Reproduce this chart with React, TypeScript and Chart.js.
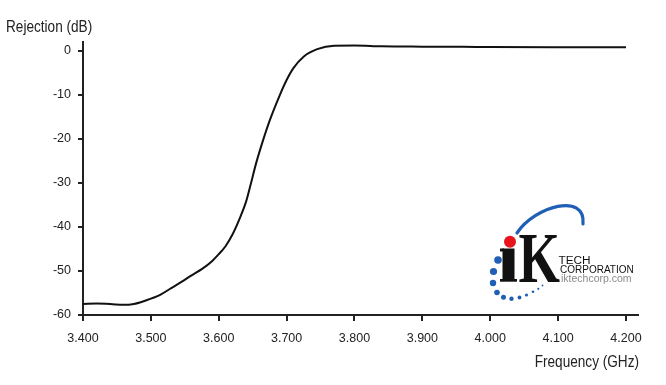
import React, { useEffect, useRef } from "react";
import { Chart, registerables } from "chart.js";

Chart.register(...registerables);

const frequencyGHz = [
  3.4, 3.42, 3.44, 3.46, 3.475, 3.485, 3.5, 3.515, 3.53, 3.545, 3.56, 3.575, 3.59, 3.6,
  3.61, 3.62, 3.63, 3.64, 3.647, 3.655, 3.665, 3.675, 3.69, 3.7, 3.71, 3.725, 3.745,
  3.77, 3.8, 3.84, 3.9, 3.96, 4.0, 4.1, 4.2,
];
const rejectionDb = [
  -57.5, -57.4, -57.5, -57.7, -57.5, -57.1, -56.3, -55.3, -53.9, -52.5, -51.0, -49.6, -47.8, -46.2,
  -44.4, -41.8, -38.4, -34.4, -30.4, -25.6, -20.5, -15.9, -10.1, -6.7, -4.0, -1.4, 0.3,
  1.1, 1.15, 0.95, 0.88, 0.85, 0.78, 0.74, 0.73,
];
const xTickValues = [3.4, 3.5, 3.6, 3.7, 3.8, 3.9, 4.0, 4.1, 4.2];
const yTickValues = [0, -10, -20, -30, -40, -50, -60];
const yAxisTitle = "Rejection (dB)";
const xAxisTitle = "Frequency (GHz)";

const FONT = "'Liberation Sans', Arial, sans-serif";

function narrowText(ctx: CanvasRenderingContext2D, text: string, x: number, y: number, align: "left" | "right", sx: number) {
  ctx.save();
  ctx.translate(x, y);
  ctx.scale(sx, 1);
  ctx.textAlign = align;
  ctx.fillText(text, 0, 0);
  ctx.restore();
}

const textPlugin = {
  id: "titlesAndLogo",
  afterDraw(chart: any) {
    const ctx = chart.ctx as CanvasRenderingContext2D;
    ctx.save();
    ctx.fillStyle = "#222";
    ctx.font = `16px ${FONT}`;
    ctx.textBaseline = "alphabetic";
    narrowText(ctx, yAxisTitle, 6, 31.5, "left", 0.85);
    narrowText(ctx, xAxisTitle, 639, 367, "right", 0.85);

    // logo
    ctx.strokeStyle = "#1f5fb5";
    ctx.lineWidth = 3.2;
    ctx.lineCap = "round";
    ctx.beginPath();
    ctx.moveTo(517, 233);
    ctx.bezierCurveTo(535, 206, 586, 192, 583, 224);
    ctx.stroke();

    ctx.fillStyle = "#1f5fb5";
    const dots = [
      [498, 260, 3.8], [493.5, 271.5, 3.6], [493, 283, 3.2], [497, 292.5, 2.8],
      [503.5, 297.3, 2.5], [511.5, 298.7, 2.2], [519.5, 297.5, 1.9], [526.5, 295, 1.6],
      [533, 291.8, 1.3], [538.3, 288.8, 1.1], [542.5, 285.5, 0.9],
    ];
    for (const [x, y, r] of dots) {
      ctx.beginPath();
      ctx.arc(x, y, r, 0, Math.PI * 2);
      ctx.fill();
    }

    ctx.fillStyle = "#e8141c";
    ctx.beginPath();
    ctx.arc(510, 241.7, 6, 0, Math.PI * 2);
    ctx.fill();

    ctx.fillStyle = "#111";
    ctx.fillRect(502.5, 248.5, 12, 32);
    ctx.fillRect(500, 248.5, 4, 3);
    ctx.fillRect(500, 279, 17, 2.7);

    ctx.save();
    ctx.translate(518.5, 281.7);
    ctx.scale(0.74, 1);
    ctx.font = "bold 72px 'Liberation Serif', 'DejaVu Serif', serif";
    ctx.textAlign = "left";
    ctx.fillText("K", 0, 0);
    ctx.restore();

    ctx.fillStyle = "#111";
    ctx.font = "10px 'Liberation Sans', Arial, sans-serif";
    ctx.save();
    ctx.translate(558.5, 264.3);
    ctx.scale(1.18, 1);
    ctx.textAlign = "left";
    ctx.fillText("TECH", 0, 0);
    ctx.restore();
    ctx.textAlign = "left";
    ctx.fillText("CORPORATION", 560, 273);
    ctx.fillStyle = "#8a8a8a";
    ctx.font = "10.5px 'Liberation Sans', Arial, sans-serif";
    ctx.fillText("iktechcorp.com", 561, 282);
    ctx.restore();
  },
};

export default function App() {
  const ref = useRef<HTMLCanvasElement | null>(null);
  useEffect(() => {
    if (!ref.current) return;
    const chart = new Chart(ref.current, {
      type: "scatter",
      data: {
        datasets: [
          {
            data: frequencyGHz.map((f, i) => ({ x: f, y: rejectionDb[i] })),
            showLine: true,
            borderColor: "#111",
            borderWidth: 2,
            pointRadius: 0,
            cubicInterpolationMode: "monotone",
            fill: false,
          },
        ],
      },
      options: {
        animation: false,
        responsive: false,
        devicePixelRatio: 1,
        layout: { padding: { left: 0, right: 28, top: 42, bottom: 0 } },
        plugins: { legend: { display: false }, tooltip: { enabled: false } },
        scales: {
          x: {
            type: "linear",
            min: 3.4,
            max: 4.2177,
            afterBuildTicks: (s: any) => {
              s.ticks = xTickValues.map((v) => ({ value: v }));
            },
            afterFit: (s: any) => {
              s.height = 70;
            },
            ticks: {
              callback: (v: any) => Number(v).toFixed(3),
              color: "#222",
              font: { family: FONT, size: 12.5 },
              padding: 10,
              maxRotation: 0,
              autoSkip: false,
            },
            grid: { display: true, drawOnChartArea: false, drawTicks: true, tickLength: 6, color: "#222", lineWidth: 2 },
            border: { display: true, color: "#222", width: 2 },
          },
          y: {
            type: "linear",
            min: -60,
            max: 1.93,
            afterBuildTicks: (s: any) => {
              s.ticks = yTickValues.map((v) => ({ value: v }));
            },
            afterFit: (s: any) => {
              s.width = 83;
            },
            ticks: {
              callback: (v: any) => String(v),
              color: "#222",
              font: { family: FONT, size: 12.5 },
              padding: 7,
              autoSkip: false,
            },
            grid: { display: true, drawOnChartArea: false, drawTicks: true, tickLength: 5, color: "#222", lineWidth: 2 },
            border: { display: true, color: "#222", width: 2 },
          },
        },
      },
      plugins: [textPlugin],
    } as any);
    return () => chart.destroy();
  }, []);
  return (
    <div style={{ position: "fixed", left: 0, top: 0, width: 666, height: 385, background: "#fff" }}>
      <canvas ref={ref} width={666} height={385} style={{ width: 666, height: 385, display: "block" }} />
    </div>
  );
}
